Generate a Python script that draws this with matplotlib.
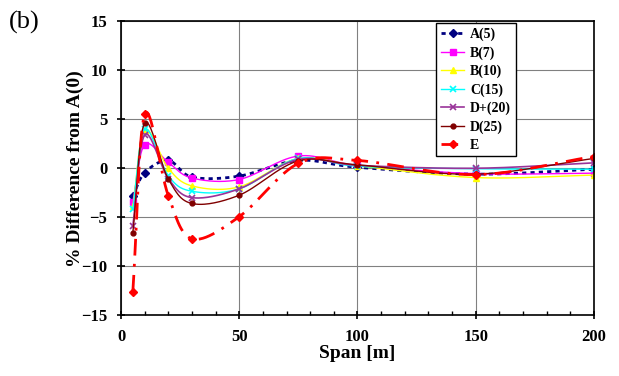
import numpy as np
import matplotlib
matplotlib.use("Agg")
from matplotlib import pyplot as plt

span = [5, 10, 20, 30, 50, 75, 100, 150, 200]

a5 = [-2.85, -0.45, 0.8, -0.9, -0.8, 0.8, 0.1, -0.6, -0.1]
b7 = [-3.4, 2.4, 0.6, -1.0, -1.15, 1.25, 0.3, -0.55, -0.5]
b10 = [-3.9, 3.9, 0.0, -1.8, -1.9, 1.0, 0.25, -0.95, -0.7]
c15 = [-4.2, 4.0, -0.75, -2.35, -2.1, 1.0, 0.2, -0.05, -0.1]
dp20 = [-5.9, 3.4, -1.05, -3.0, -2.1, 0.9, 0.3, 0.0, 0.55]
d25 = [-6.6, 4.6, -1.1, -3.6, -2.75, 0.75, 0.35, -0.6, 1.0]
e = [-12.6, 5.5, -2.8, -7.2, -4.95, 0.5, 0.8, -0.65, 1.2]

series = [
    ("A(5)", a5, dict(color="#000080", ls=(0, (1.5, 1.5)), lw=2.0, marker="D", ms=4)),
    ("B(7)", b7, dict(color="#FF00FF", ls="-", lw=1.0, marker="s", ms=4)),
    ("B(10)", b10, dict(color="#FFFF00", ls="-", lw=1.0, marker="^", ms=5)),
    ("C(15)", c15, dict(color="#00FFFF", ls="-", lw=1.0, marker="x", ms=4, mew=1.2)),
    ("D+(20)", dp20, dict(color="#993399", ls="-", lw=1.2, marker="x", ms=4, mew=1.2)),
    ("D(25)", d25, dict(color="#800000", ls="-", lw=1.0, marker="o", ms=3.5)),
    ("E", e, dict(color="#FF0000", ls=(0, (6, 3, 1, 3)), lw=2.0, marker="D", ms=4.5)),
]


def smooth(x, y, n=30):
    # Catmull-Rom curve through the points, like a spreadsheet "smoothed line"
    p = np.column_stack([x, y]).astype(float)
    p = np.vstack([2 * p[0] - p[1], p, 2 * p[-1] - p[-2]])
    t = np.linspace(0, 1, n)[:, None]
    out = []
    for i in range(1, len(p) - 2):
        p0, p1, p2, p3 = p[i - 1], p[i], p[i + 1], p[i + 2]
        seg = 0.5 * ((2 * p1) + (-p0 + p2) * t + (2 * p0 - 5 * p1 + 4 * p2 - p3) * t ** 2
                     + (-p0 + 3 * p1 - 3 * p2 + p3) * t ** 3)
        out.append(seg if i == 1 else seg[1:])
    out = np.vstack(out)
    return out[:, 0], out[:, 1]


plt.rcParams["font.family"] = "Liberation Serif"
plt.rcParams["font.weight"] = "bold"

fig = plt.figure(figsize=(6.19, 3.76), dpi=100)
ax = fig.add_axes([0.1955, 0.162, 0.764, 0.781])

for name, vals, st in series:
    sx, sy = smooth(span, vals)
    ax.plot(sx, sy, color=st["color"], ls=st["ls"], lw=st["lw"])
    ax.plot(span, vals, ls="none", color=st["color"], marker=st["marker"],
            ms=st["ms"], mew=st.get("mew", 1.0))
    ax.plot([], [], label=name, color=st["color"], ls=st["ls"], lw=st["lw"],
            marker=st["marker"], ms=st["ms"], mew=st.get("mew", 1.0))

ax.set_xlim(0, 200)
ax.set_ylim(-15, 15)
ax.set_xticks([0, 50, 100, 150, 200])
ax.set_xticks(np.arange(0, 201, 10), minor=True)
ax.set_yticks(np.arange(-15, 16, 5))
ax.grid(True, which="major", color="#808080", lw=0.8)
ax.set_axisbelow(True)
ax.tick_params(which="major", direction="inout", length=6, width=1.2, labelsize=12, pad=7)
ax.tick_params(which="minor", direction="in", length=3, width=1.0)
for s in ax.spines.values():
    s.set_linewidth(1.2)
for lbl in ax.get_xticklabels() + ax.get_yticklabels():
    lbl.set_fontweight("bold")

ax.set_xlabel("Span [m]", fontsize=14, fontweight="bold", labelpad=0)
ax.set_ylabel("% Difference from A(0)", fontsize=14, fontweight="bold", labelpad=-2)
fig.text(0.015, 0.925, "(b)", fontsize=19, fontweight="normal")

leg = ax.legend(loc="upper left", bbox_to_anchor=(0.663, 1.0), fancybox=False,
                edgecolor="black", framealpha=1, fontsize=10, handlelength=1.7,
                labelspacing=0.36, borderaxespad=0.1, handletextpad=0.4,
                borderpad=0.35)
leg.get_frame().set_linewidth(1.0)
for t in leg.get_texts():
    t.set_fontweight("bold")

fig.savefig("out.png", dpi=100)
